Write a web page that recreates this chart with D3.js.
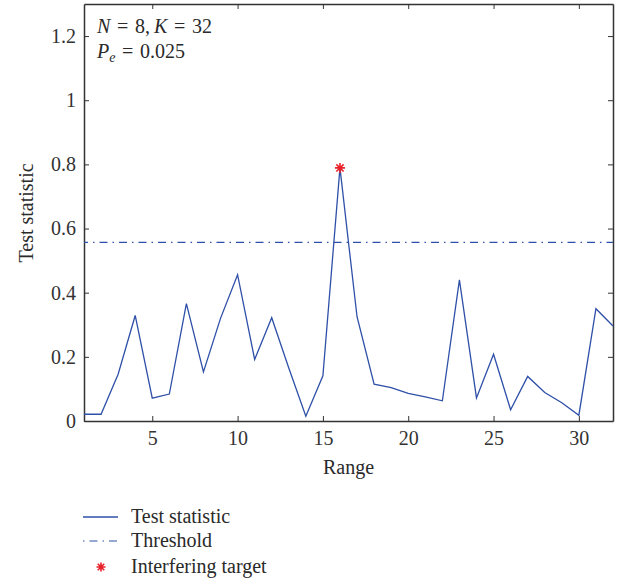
<!DOCTYPE html>
<html>
<head>
<meta charset="utf-8">
<script src="https://cdn.jsdelivr.net/npm/d3@7"></script>
<style>
  body { margin: 0; background: #fff; }
  svg { font-family: "Liberation Serif", "DejaVu Serif", serif; }
  .axis path, .axis line { stroke: #333; }
  .axis text { font-size: 20px; fill: #333; font-family: "Liberation Serif", serif; }
</style>
</head>
<body>
<div id="chart-area"></div>
<script>
const ranges = d3.range(1, 33);
const testStat = [0.021, 0.021, 0.146, 0.329, 0.071, 0.084, 0.366, 0.153, 0.32, 0.456,
                  0.192, 0.322, 0.165, 0.015, 0.141, 0.789, 0.325, 0.115, 0.104, 0.086,
                  0.075, 0.063, 0.44, 0.072, 0.208, 0.035, 0.139, 0.089, 0.057, 0.018,
                  0.35, 0.296];
const threshold = 0.557;
const target = { range: 16, value: 0.789 };
const xTicks = [5, 10, 15, 20, 25, 30];
const yTicks = [0, 0.2, 0.4, 0.6, 0.8, 1, 1.2];
const legendItems = ["Test statistic", "Threshold", "Interfering target"];

const margin = { top: 4, right: 16, bottom: 162, left: 84 };
const width = 629 - margin.left - margin.right;
const height = 583 - margin.top - margin.bottom;

const blue = "#2f50a8";
const red = "#e8202a";
const textColor = "#2a2a2a";

const root = d3.select("#chart-area")
  .append("svg")
    .attr("width", 629)
    .attr("height", 583);

const svg = root.append("g")
    .attr("transform", `translate(${margin.left},${margin.top})`);

const xScale = d3.scaleLinear().domain([1, 32]).range([0, width]);
const yScale = d3.scaleLinear().domain([0, 1.3]).range([height, 0]);

// axes, ticks pointing inward
svg.append("g")
  .attr("class", "axis")
  .attr("transform", `translate(0,${height})`)
  .call(d3.axisBottom(xScale).tickValues(xTicks).tickSize(-5).tickPadding(10).tickSizeOuter(0));

svg.append("g")
  .attr("class", "axis")
  .call(d3.axisTop(xScale).tickValues(xTicks).tickSize(-5).tickFormat("").tickSizeOuter(0));

svg.append("g")
  .attr("class", "axis")
  .call(d3.axisLeft(yScale).tickValues(yTicks).tickSize(-5).tickPadding(8).tickSizeOuter(0)
    .tickFormat(d => d3.format("")(d)));

svg.append("g")
  .attr("class", "axis")
  .attr("transform", `translate(${width},0)`)
  .call(d3.axisRight(yScale).tickValues(yTicks).tickSize(-5).tickFormat("").tickSizeOuter(0));

svg.selectAll(".axis .domain").attr("stroke-width", 1.5);

// threshold
const line = d3.line()
  .x(d => xScale(d[0]))
  .y(d => yScale(d[1]));

svg.append("path")
  .datum(xScale.domain().map(x => [x, threshold]))
  .attr("fill", "none")
  .attr("stroke", blue)
  .attr("stroke-width", 1.2)
  .attr("stroke-dasharray", "8,5,1.5,5")
  .attr("stroke-dashoffset", 4)
  .attr("d", line);

// test statistic
svg.append("path")
  .datum(ranges.map((r, i) => [r, testStat[i]]))
  .attr("fill", "none")
  .attr("stroke", blue)
  .attr("stroke-width", 1.3)
  .attr("stroke-linejoin", "miter")
  .attr("d", line);

function starPath(cx, cy, r) {
  const d = r * 0.72;
  return `M${cx - r},${cy}L${cx + r},${cy}M${cx},${cy - r}L${cx},${cy + r}` +
         `M${cx - d},${cy - d}L${cx + d},${cy + d}M${cx - d},${cy + d}L${cx + d},${cy - d}`;
}

svg.append("path")
  .attr("d", starPath(xScale(target.range), yScale(target.value), 5))
  .attr("stroke", red)
  .attr("stroke-width", 1.6)
  .attr("fill", "none");

// annotation
const ann = svg.append("text")
  .attr("x", 13)
  .attr("y", 29)
  .style("font-size", "20px")
  .attr("fill", textColor);
ann.append("tspan").style("font-style", "italic").text("N");
ann.append("tspan").text("\u2004=\u20048,\u2009");
ann.append("tspan").style("font-style", "italic").text("K");
ann.append("tspan").text("\u2004=\u200432");

const ann2 = svg.append("text")
  .attr("x", 13)
  .attr("y", 54)
  .style("font-size", "20px")
  .attr("fill", textColor);
ann2.append("tspan").style("font-style", "italic").text("P");
ann2.append("tspan").style("font-style", "italic").style("font-size", "14px").attr("dy", 4).text("e");
ann2.append("tspan").attr("dy", -4).text("\u2004=\u20040.025");

// axis labels
root.append("text")
  .attr("x", margin.left + width / 2)
  .attr("y", 474)
  .attr("text-anchor", "middle")
  .style("font-size", "20px")
  .attr("fill", textColor)
  .text("Range");

root.append("text")
  .attr("transform", "rotate(-90)")
  .attr("x", -213)
  .attr("y", 33)
  .attr("text-anchor", "middle")
  .style("font-size", "20px")
  .attr("fill", textColor)
  .text("Test statistic");

// legend
const legend = root.append("g");
const legendY = [517, 541, 567];

legend.append("line")
  .attr("x1", 83).attr("x2", 118)
  .attr("y1", legendY[0]).attr("y2", legendY[0])
  .attr("stroke", blue).attr("stroke-width", 1.3);

legend.append("line")
  .attr("x1", 83).attr("x2", 118)
  .attr("y1", legendY[1]).attr("y2", legendY[1])
  .attr("stroke", blue).attr("stroke-width", 1.2)
  .attr("stroke-dasharray", "1.5,5,8,5");

legend.append("path")
  .attr("d", starPath(101, legendY[2], 4.5))
  .attr("stroke", red).attr("stroke-width", 1.6);

legend.selectAll("text.item")
  .data(legendItems)
  .enter()
  .append("text")
  .attr("class", "item")
  .attr("x", 131)
  .attr("y", (d, i) => legendY[i] + 6)
  .style("font-size", "20px")
  .attr("fill", textColor)
  .text(d => d);
</script>
</body>
</html>
